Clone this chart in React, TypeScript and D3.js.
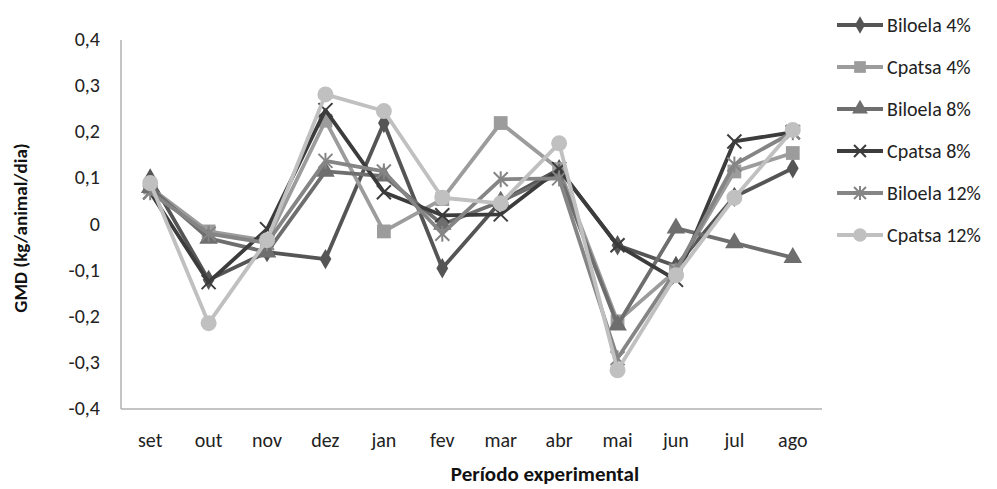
import React from 'react';
import * as d3 from 'd3';

const months = ['set', 'out', 'nov', 'dez', 'jan', 'fev', 'mar', 'abr', 'mai', 'jun', 'jul', 'ago'];
const yTicks = [0.4, 0.3, 0.2, 0.1, 0, -0.1, -0.2, -0.3, -0.4];

const biloela4 = [0.1, -0.12, -0.06, -0.075, 0.22, -0.095, 0.05, 0.12, -0.045, -0.09, 0.06, 0.122];
const cpatsa4 = [0.08, -0.015, -0.035, 0.225, -0.015, 0.055, 0.22, 0.12, -0.21, -0.1, 0.115, 0.155];
const biloela8 = [0.08, -0.03, -0.06, 0.115, 0.105, 0, 0.05, 0.11, -0.218, -0.008, -0.04, -0.072];
const cpatsa8 = [0.07, -0.125, -0.01, 0.248, 0.07, 0.02, 0.022, 0.12, -0.045, -0.12, 0.18, 0.2];
const biloela12 = [0.07, -0.02, -0.04, 0.138, 0.115, -0.02, 0.098, 0.1, -0.29, -0.1, 0.13, 0.2];
const cpatsa12 = [0.09, -0.214, -0.034, 0.282, 0.246, 0.058, 0.046, 0.176, -0.316, -0.11, 0.058, 0.205];

type Marker = 'diamond' | 'square' | 'triangle' | 'x' | 'asterisk' | 'circle';
const series: { name: string; values: number[]; color: string; marker: Marker }[] = [
  { name: 'Biloela 4%', values: biloela4, color: '#555555', marker: 'diamond' },
  { name: 'Cpatsa 4%', values: cpatsa4, color: '#9c9c9c', marker: 'square' },
  { name: 'Biloela 8%', values: biloela8, color: '#6e6e6e', marker: 'triangle' },
  { name: 'Cpatsa 8%', values: cpatsa8, color: '#3c3c3c', marker: 'x' },
  { name: 'Biloela 12%', values: biloela12, color: '#858585', marker: 'asterisk' },
  { name: 'Cpatsa 12%', values: cpatsa12, color: '#c0c0c0', marker: 'circle' },
];

const FONT = 'Calibri, Carlito, Lato, "Open Sans", sans-serif';

const MarkerShape: React.FC<{ m: Marker; x: number; y: number; color: string; legend?: boolean }> = ({
  m,
  x,
  y,
  color,
  legend,
}) => {
  const k = legend ? 0.85 : 1;
  if (m === 'x' || m === 'asterisk') {
    const s = 7 * k;
    return (
      <g stroke={color} strokeWidth={2}>
        <line x1={x - s} y1={y - s} x2={x + s} y2={y + s} />
        <line x1={x - s} y1={y + s} x2={x + s} y2={y - s} />
        {m === 'asterisk' && <line x1={x} y1={y - s - 1} x2={x} y2={y + s + 1} />}
      </g>
    );
  }
  const type =
    m === 'diamond' ? d3.symbolDiamond : m === 'square' ? d3.symbolSquare : m === 'triangle' ? d3.symbolTriangle : d3.symbolCircle;
  const size = (m === 'diamond' ? 120 : m === 'square' ? 190 : m === 'triangle' ? 150 : 200) * k * k;
  const path = d3.symbol().type(type).size(size)() || '';
  return <path d={path} transform={`translate(${x},${y})`} fill={color} />;
};

const App: React.FC = () => {
  const width = 997;
  const height = 489;
  const left = 121;
  const right = 822;
  const top = 40;
  const bottom = 409;

  const x = d3.scalePoint<string>().domain(months).range([left, right]).padding(0.5);
  const y = d3.scaleLinear().domain([-0.4, 0.4]).range([bottom, top]);
  const line = d3
    .line<number>()
    .x((_, i) => x(months[i]) as number)
    .y((d) => y(d));

  const fmt = (v: number) => (v === 0 ? '0' : d3.format('.1f')(v).replace('.', ',').replace('−', '-'));

  return (
    <svg width={width} height={height} style={{ position: 'absolute', left: 0, top: 0, background: '#fff' }} fontFamily={FONT}>
      {/* axes */}
      <line x1={left} y1={top} x2={left} y2={bottom} stroke="#b0b0b0" strokeWidth={1.5} />
      <line x1={left} y1={bottom} x2={right} y2={bottom} stroke="#b0b0b0" strokeWidth={1.5} />
      {yTicks.map((t) => (
        <text key={t} x={100} y={y(t) + 6} textAnchor="end" fontSize={20} fill="#222">
          {fmt(t)}
        </text>
      ))}
      {months.map((m) => (
        <text key={m} x={x(m)} y={447} textAnchor="middle" fontSize={20} fill="#222">
          {m}
        </text>
      ))}
      <text x={545} y={481} textAnchor="middle" fontSize={21} fontWeight="bold" fill="#111">
        Período experimental
      </text>
      <text
        transform={`translate(20,228) rotate(-90)`}
        dy="0.35em"
        textAnchor="middle"
        fontSize={19}
        fontWeight="bold"
        fill="#111"
      >
        GMD (kg/animal/dia)
      </text>

      {/* series */}
      {series.map((s) => (
        <g key={s.name}>
          <path d={line(s.values) || ''} fill="none" stroke={s.color} strokeWidth={3.8} strokeLinejoin="round" />
          {s.values.map((v, i) => (
            <MarkerShape key={i} m={s.marker} x={x(months[i]) as number} y={y(v)} color={s.color} />
          ))}
        </g>
      ))}

      {/* legend */}
      {series.map((s, i) => {
        const ly = 25 + i * 42;
        return (
          <g key={s.name}>
            <line x1={837} y1={ly} x2={883} y2={ly} stroke={s.color} strokeWidth={3.8} />
            <MarkerShape m={s.marker} x={860} y={ly} color={s.color} legend />
            <text x={887} y={ly + 7} fontSize={20} fill="#222">
              {s.name}
            </text>
          </g>
        );
      })}
    </svg>
  );
};

export default App;
